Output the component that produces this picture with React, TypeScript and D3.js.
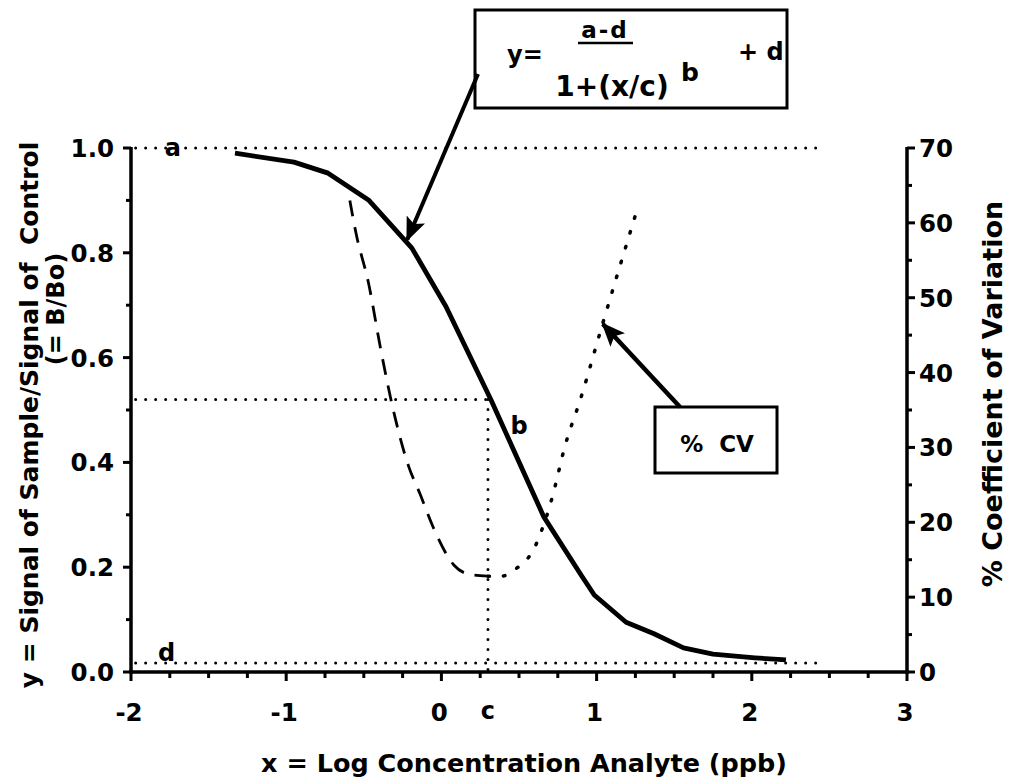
import React from "react";
import { scaleLinear, line, curveLinear, curveMonotoneX, range } from "d3";

// B/Bo signal curve (solid)
const logConc = [-1.33, -0.95, -0.73, -0.47, -0.19, 0.03, 0.32, 0.66, 0.9, 0.985, 1.19, 1.37, 1.56, 1.75, 2.02, 2.22];
const signal = [0.99, 0.973, 0.952, 0.901, 0.809, 0.697, 0.519, 0.296, 0.185, 0.147, 0.095, 0.073, 0.046, 0.034, 0.027, 0.023];

// %CV, low concentration side (dashed)
const cvLowX = [-0.59, -0.55, -0.47, -0.39, -0.31, -0.21, -0.14, -0.05, 0.08, 0.19, 0.3];
const cvLow = [63.0, 58.6, 52.0, 43.0, 35.0, 27.4, 23.9, 19.2, 14.3, 13.0, 12.8];

// %CV, high concentration side (dotted)
const cvHighX = [0.3, 0.39, 0.48, 0.55, 0.6, 0.64, 0.7, 0.73, 0.79, 0.9, 1.04, 1.26];
const cvHigh = [12.8, 12.8, 13.8, 15.0, 16.6, 18.6, 22.3, 24.6, 29.7, 36.7, 46.6, 61.7];

const xTicks = [-2, -1, 0, 1, 2, 3];
const yTicks = [0, 0.2, 0.4, 0.6, 0.8, 1.0];
const cvTicks = [0, 10, 20, 30, 40, 50, 60, 70];

// reference levels
const aLevel = 1.0;
const dLevel = 0.017;
const cLog = 0.3;
const midLevel = 0.52;
const refEnd = 2.45;

const FONT = "'DejaVu Sans', Verdana, sans-serif";

const App = () => {
  const width = 1021;
  const height = 782;
  const x = scaleLinear().domain([-2, 3]).range([131, 907]);
  const y = scaleLinear().domain([0, 1]).range([672, 148]);
  const cv = scaleLinear().domain([0, 70]).range([672, 148]);

  const sigLine = line<number>()
    .x((d, i) => x(logConc[i]))
    .y((d) => y(d))
    .curve(curveLinear);
  const cvLowLine = line<number>()
    .x((d, i) => x(cvLowX[i]))
    .y((d) => cv(d))
    .curve(curveMonotoneX);
  const cvHighLine = line<number>()
    .x((d, i) => x(cvHighX[i]))
    .y((d) => cv(d))
    .curve(curveMonotoneX);

  const dots = { stroke: "#000", strokeWidth: 3, strokeDasharray: "0 10", strokeLinecap: "round" as const, fill: "none" };
  const xMinor = range(-2, 3.001, 0.25).filter((v) => !xTicks.includes(v));
  const yMinor = range(0.1, 1, 0.2);
  const cvMinor = range(5, 70, 10);

  return (
    <svg width={width} height={height} style={{ position: "absolute", left: 0, top: 0, background: "#fff" }} fontFamily={FONT} fontWeight="bold">
      <defs>
        <marker id="head" markerUnits="userSpaceOnUse" markerWidth={24} markerHeight={20} refX={22} refY={10} orient="auto">
          <path d="M0,0 L24,10 L0,20 L5,10 z" fill="#000" />
        </marker>
      </defs>

      {/* reference dotted lines */}
      <line x1={x(-1.97)} x2={x(refEnd)} y1={y(aLevel)} y2={y(aLevel)} {...dots} />
      <line x1={x(-1.97)} x2={x(refEnd)} y1={y(dLevel)} y2={y(dLevel)} {...dots} />
      <line x1={x(-1.97)} x2={x(cLog)} y1={y(midLevel)} y2={y(midLevel)} {...dots} />
      <line x1={x(cLog)} x2={x(cLog)} y1={y(midLevel)} y2={y(0)} {...dots} />

      {/* curves */}
      <path d={sigLine(signal) || ""} fill="none" stroke="#000" strokeWidth={4.8} strokeLinejoin="round" />
      <path d={cvLowLine(cvLow) || ""} fill="none" stroke="#000" strokeWidth={2.8} strokeDasharray="16 11" />
      <path d={cvHighLine(cvHigh) || ""} fill="none" stroke="#000" strokeWidth={3.5} strokeDasharray="1.5 14" strokeLinecap="round" />

      {/* letters */}
      <text x={x(-1.73)} y={y(aLevel) + 8} fontSize={24} textAnchor="middle">a</text>
      <text x={x(-1.77)} y={y(dLevel) - 2} fontSize={24} textAnchor="middle">d</text>
      <text x={x(0.5)} y={y(0.455)} fontSize={24} textAnchor="middle">b</text>
      <text x={x(cLog)} y={719} fontSize={24} textAnchor="middle">c</text>

      {/* left axis */}
      <line x1={131} x2={131} y1={y(1) - 1} y2={y(0) + 2} stroke="#000" strokeWidth={3.5} />
      {yTicks.map((t) => (
        <g key={"y" + t}>
          <line x1={123} x2={131} y1={y(t)} y2={y(t)} stroke="#000" strokeWidth={3} />
          <text x={114} y={y(t)} dy="0.37em" fontSize={24.5} textAnchor="end">{t.toFixed(1)}</text>
        </g>
      ))}
      {yMinor.map((t) => (
        <line key={"ym" + t} x1={126} x2={131} y1={y(t)} y2={y(t)} stroke="#000" strokeWidth={3} />
      ))}

      {/* right axis */}
      <line x1={907} x2={907} y1={cv(70) - 1} y2={cv(0) + 2} stroke="#000" strokeWidth={3.5} />
      {cvTicks.map((t) => (
        <g key={"cv" + t}>
          <line x1={907} x2={915} y1={cv(t)} y2={cv(t)} stroke="#000" strokeWidth={3} />
          <text x={919} y={cv(t)} dy="0.37em" fontSize={24.5}>{t}</text>
        </g>
      ))}
      {cvMinor.map((t) => (
        <line key={"cvm" + t} x1={907} x2={912} y1={cv(t)} y2={cv(t)} stroke="#000" strokeWidth={3} />
      ))}

      {/* bottom axis */}
      <line x1={129} x2={909} y1={y(0)} y2={y(0)} stroke="#000" strokeWidth={3.5} />
      {xTicks.map((t) => (
        <g key={"x" + t}>
          <line x1={x(t)} x2={x(t)} y1={y(0)} y2={y(0) + 9} stroke="#000" strokeWidth={3} />
          <text x={x(t) - 2} y={721} fontSize={24.5} textAnchor="middle">{t}</text>
        </g>
      ))}
      {xMinor.map((t) => (
        <line key={"xm" + t} x1={x(t)} x2={x(t)} y1={y(0)} y2={y(0) + 6} stroke="#000" strokeWidth={3} />
      ))}

      {/* axis titles */}
      <text transform="translate(38,415) rotate(-90)" fontSize={25} textAnchor="middle" style={{ whiteSpace: "pre" }}>
        {"y = Signal of Sample/Signal of  Control"}
      </text>
      <text transform="translate(64,309) rotate(-90)" fontSize={24} textAnchor="middle">(= B/Bo)</text>
      <text transform="translate(1002,394) rotate(-90)" fontSize={27} textAnchor="middle">% Coefficient of Variation</text>
      <text x={524} y={772} fontSize={25.5} textAnchor="middle">x = Log Concentration Analyte (ppb)</text>

      {/* formula box */}
      <rect x={475} y={10} width={312} height={98} fill="#fff" stroke="#000" strokeWidth={3} />
      <text x={507} y={63} fontSize={24}>y=</text>
      <text x={605} y={38} fontSize={23} textAnchor="middle" letterSpacing={2}>a-d</text>
      <line x1={578} x2={633} y1={43} y2={43} stroke="#000" strokeWidth={2.5} />
      <text x={612} y={96} fontSize={28} textAnchor="middle">1+(x/c)</text>
      <text x={681} y={81} fontSize={25}>b</text>
      <text x={738} y={60} fontSize={24} style={{ whiteSpace: "pre" }}>{"+ d"}</text>
      <line x1={478} x2={x(-0.22)} y1={74} y2={y(0.825)} stroke="#000" strokeWidth={4} markerEnd="url(#head)" />

      {/* %CV box */}
      <rect x={655} y={407} width={122} height={66} fill="#fff" stroke="#000" strokeWidth={3} />
      <text x={717} y={452} fontSize={23} textAnchor="middle" style={{ whiteSpace: "pre" }}>{"%  CV"}</text>
      <line x1={680} x2={x(1.04)} y1={407} y2={cv(46.5)} stroke="#000" strokeWidth={4.5} markerEnd="url(#head)" />
    </svg>
  );
};

export default App;
